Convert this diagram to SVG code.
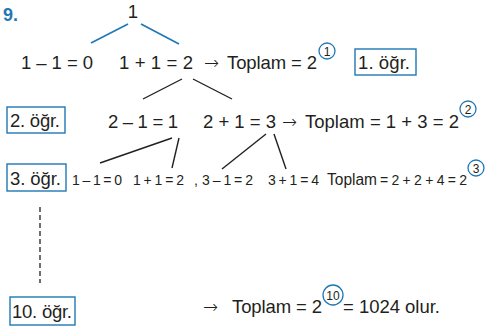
<svg xmlns="http://www.w3.org/2000/svg" width="496" height="328" viewBox="0 0 496 328">
<style>
text{font-family:"Liberation Sans",Arial,sans-serif;fill:#231f20}
.m{font-size:18.5px}
.a{font-family:"DejaVu Sans",sans-serif;font-size:18px;font-weight:200}
.s{font-size:14px}
.n{font-size:12px;text-anchor:middle}
.box{fill:none;stroke:#1f78b4;stroke-width:1.4}
.circ{fill:none;stroke:#1f78b4;stroke-width:1.3}
.bl{stroke:#1f78b4;stroke-width:1.6}
.k{stroke:#231f20;stroke-width:1.4}
</style>
<rect width="496" height="328" fill="#fff"/>
<text x="3" y="21" style="font-size:18px;font-weight:bold;fill:#1f78b4">9.</text>
<g id="root"><text class="m" x="133" y="18" text-anchor="middle">1</text></g>
<g id="connectors">
<line class="bl" x1="128" y1="24" x2="91" y2="43"/>
<line class="bl" x1="141" y1="24" x2="179" y2="44"/>
<line class="k" x1="182" y1="79" x2="143" y2="99"/>
<line class="k" x1="193" y1="79" x2="232" y2="99"/>
<line class="k" x1="172" y1="138" x2="100" y2="163"/>
<line class="k" x1="179" y1="138" x2="172" y2="168"/>
<line class="k" x1="266" y1="134" x2="222" y2="169"/>
<line class="k" x1="274" y1="134" x2="286" y2="169"/>
<line x1="40" y1="207" x2="40" y2="283" stroke="#231f20" stroke-width="1.3" stroke-dasharray="5 3"/>
</g>
<g id="row1">
<text class="m" x="21" y="69" textLength="72" lengthAdjust="spacing">1 – 1 = 0</text>
<text class="m" x="119" y="69" textLength="74" lengthAdjust="spacing">1 + 1 = 2</text>
<text class="a" x="204" y="69">→</text>
<text class="m" x="227" y="69" textLength="90" lengthAdjust="spacing">Toplam = 2</text>
<circle class="circ" cx="327" cy="51" r="8"/>
<text class="n" x="327" y="55.5">1</text>
</g>
<g id="ogr1"><rect class="box" x="355" y="49" width="61" height="26"/><text class="m" x="358" y="69" textLength="52" lengthAdjust="spacing">1. öğr.</text></g>
<g id="ogr2"><rect class="box" x="7" y="107" width="58" height="26"/><text class="m" x="10" y="127" textLength="50" lengthAdjust="spacing">2. öğr.</text></g>
<g id="row2">
<text class="m" x="108" y="128" textLength="70" lengthAdjust="spacing">2 – 1 = 1</text>
<text class="m" x="203" y="128" textLength="73" lengthAdjust="spacing">2 + 1 = 3</text>
<text class="a" x="282" y="128">→</text>
<text class="m" x="305" y="128" textLength="154" lengthAdjust="spacing">Toplam = 1 + 3 = 2</text>
<circle class="circ" cx="468" cy="109" r="8"/>
<text class="n" x="468" y="113.5">2</text>
</g>
<g id="ogr3"><rect class="box" x="7" y="164" width="59" height="27"/><text class="m" x="10" y="185" textLength="51" lengthAdjust="spacing">3. öğr.</text></g>
<g id="row3">
<text class="s" x="72" y="185" textLength="50" lengthAdjust="spacing">1 – 1 = 0</text>
<text class="s" x="133" y="185" textLength="51" lengthAdjust="spacing">1 + 1 = 2</text>
<text class="s" x="194" y="185">,</text>
<text class="s" x="202" y="185" textLength="51" lengthAdjust="spacing">3 – 1 = 2</text>
<text class="s" x="268" y="185" textLength="51" lengthAdjust="spacing">3 + 1 = 4</text>
<text x="327" y="185" style="font-size:16px" textLength="50" lengthAdjust="spacingAndGlyphs">Toplam</text>
<text class="s" x="380" y="185" textLength="87" lengthAdjust="spacing">= 2 + 2 + 4 = 2</text>
<circle class="circ" cx="476" cy="168" r="8"/>
<text class="n" x="476" y="172.5">3</text>
</g>
<g id="ogr10"><rect class="box" x="10" y="297" width="65" height="28"/><text class="m" x="12" y="318" textLength="60" lengthAdjust="spacing">10. öğr.</text></g>
<g id="final">
<text class="a" x="203" y="313">→</text>
<text class="m" x="232" y="313" textLength="90" lengthAdjust="spacing">Toplam = 2</text>
<circle class="circ" cx="333" cy="295" r="10"/>
<text class="n" x="333" y="299.5">10</text>
<text class="m" x="343" y="313" textLength="97" lengthAdjust="spacing">= 1024 olur.</text>
</g>
</svg>
